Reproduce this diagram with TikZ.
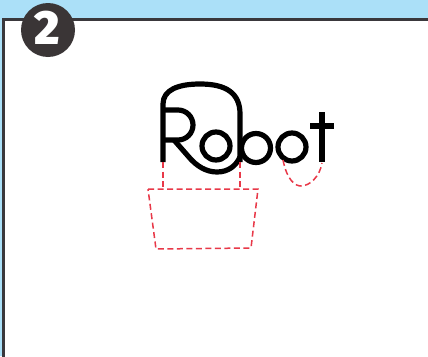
\documentclass[tikz,border=0pt]{standalone}
\usepackage{fontspec}
\newfontfamily\numfont{Fira Sans Black}
\begin{document}
\begin{tikzpicture}[x=1pt,y=-1pt,
  ink/.style={line width=5.2pt,line join=round,line cap=butt},
  guide/.style={draw={rgb,255:red,232;green,56;blue,72},line width=1.5pt,dash pattern=on 6pt off 3.5pt}]
\definecolor{skyb}{RGB}{171,224,248}
\definecolor{frame}{RGB}{58,56,60}
\definecolor{badge}{RGB}{58,53,54}
\useasboundingbox (0,0) rectangle (428,356);
\fill[skyb] (0,0) rectangle (428,356);
\fill[white,draw=frame,line width=2.5pt] (3.5,19.5) rectangle (440,370);
% badge
\fill[badge] (48,30) circle (27);
\node[text=white,font=\numfont\fontsize{48}{48}\selectfont,inner sep=0] (num) at (47,28) {2};
% Robot strokes
\draw[ink] (163,162) -- (163,104) .. controls (163,90) and (178,84) .. (200,84)
  .. controls (226,84) and (240,93) .. (240,114) -- (240,162);
\draw[ink] (163,110) -- (178,110) arc (-90:90:15) -- (163,140);
\draw[ink] (174,140) -- (188,156) .. controls (197,167) and (207,172) .. (217,172)
  .. controls (228,172) and (236,166) .. (240,157);
\draw[ink] (216,146) circle (14);
\draw[ink] (256,148) circle (14.5);
\draw[ink] (292,147) circle (14);
\draw[ink] (322,112) -- (322,162);
\draw[ink] (310,126) -- (334,126);
% guides
\coordinate (rb) at (163,162);
\coordinate (bb) at (240,162);
\coordinate (tl) at (148,189);
\coordinate (tr) at (258,189);
\coordinate (br) at (251,248);
\coordinate (bl) at (156,249);
\draw[guide] (rb) -- (163,189);
\draw[guide] (bb) -- (240,189);
\draw[guide] (tl) -- (tr) -- (br) -- (bl) -- cycle;
\coordinate (oa) at (283,160);
\coordinate (tb) at (322,163);
\draw[guide] (oa) .. controls (287,180) and (295,186) .. (301,186) .. controls (310,186) and (320,176) .. (tb);
\end{tikzpicture}
\end{document}
